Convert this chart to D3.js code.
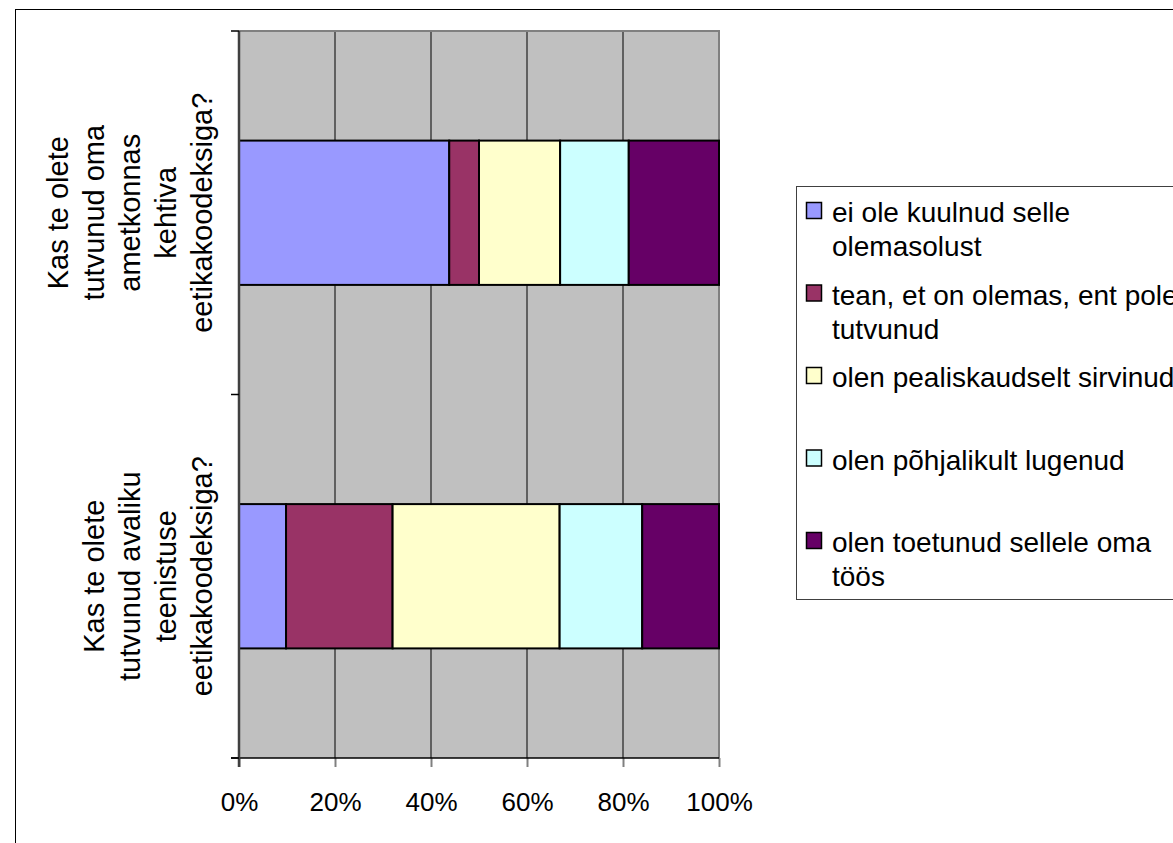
<!DOCTYPE html>
<html>
<head>
<meta charset="utf-8">
<script src="https://cdn.jsdelivr.net/npm/d3@7"></script>
<style>
  body { margin: 0; background: #fff; }
  svg { display: block; font-family: "Liberation Sans", Arial, sans-serif; }
</style>
</head>
<body>
<svg id="chart" width="1173" height="843"></svg>
<script>
// Categories, top to bottom; each label is split into its wrapped lines
const categories = ["ametkond", "avalik"];
const categoryLines = [
  ["Kas te olete", "tutvunud oma", "ametkonnas", "kehtiva", "eetikakoodeksiga?"],
  ["Kas te olete", "tutvunud avaliku", "teenistuse", "eetikakoodeksiga?"]
];

// Answer options (legend entries), each with its wrapped lines
const seriesLines = [
  ["ei ole kuulnud selle", "olemasolust"],
  ["tean, et on olemas, ent pole", "tutvunud"],
  ["olen pealiskaudselt sirvinud"],
  ["olen põhjalikult lugenud"],
  ["olen toetunud sellele oma", "töös"]
];
const seriesColors = ["#9999FF", "#993366", "#FFFFCC", "#CCFFFF", "#660066"];

// Share of answers in percent, one array per category (same order as series)
const ametkondValues = [43.8, 6.2, 16.9, 14.3, 18.8];
const avalikValues = [9.8, 22.2, 34.8, 17.2, 16.0];
const valuesByCategory = [ametkondValues, avalikValues];

const xTicks = [0, 20, 40, 60, 80, 100];

const svg = d3.select("#chart");

// Outer chart frame (runs off the right and bottom edges)
svg.append("rect")
  .attr("x", 15.5).attr("y", 9.5)
  .attr("width", 1300).attr("height", 1000)
  .attr("fill", "none").attr("stroke", "#000").attr("stroke-width", 1);

const plot = { left: 239, right: 719, top: 31, bottom: 758 };

const x = d3.scaleLinear().domain([0, 100]).range([plot.left, plot.right]);
const y = d3.scaleBand().domain(categories).range([plot.top, plot.bottom]).padding(0);
const barHeight = y.bandwidth() * 0.397;

// Plot background
svg.append("rect")
  .attr("x", plot.left).attr("y", plot.top)
  .attr("width", plot.right - plot.left).attr("height", plot.bottom - plot.top)
  .attr("fill", "#C0C0C0");

// Vertical gridlines
svg.append("g")
  .selectAll("line")
  .data(xTicks.filter((t) => t > 0 && t < 100))
  .join("line")
  .attr("x1", (d) => x(d)).attr("x2", (d) => x(d))
  .attr("y1", plot.top).attr("y2", plot.bottom)
  .attr("stroke", "#000").attr("stroke-width", 1);

// Plot border: top and right in gray
svg.append("path")
  .attr("d", `M${plot.left},${plot.top}H${plot.right}V${plot.bottom}`)
  .attr("fill", "none").attr("stroke", "#808080").attr("stroke-width", 2);

// Stacked bars
const stackedRows = valuesByCategory.map((vals, ci) => {
  let acc = 0;
  return vals.map((v, si) => {
    const seg = { cat: categories[ci], series: si, x0: acc, x1: acc + v };
    acc += v;
    return seg;
  });
});

svg.append("g")
  .selectAll("rect")
  .data(stackedRows.flat())
  .join("rect")
  .attr("x", (d) => x(d.x0))
  .attr("width", (d) => x(d.x1) - x(d.x0))
  .attr("y", (d) => y(d.cat) + (y.bandwidth() - barHeight) / 2)
  .attr("height", barHeight)
  .attr("fill", (d) => seriesColors[d.series])
  .attr("stroke", "#000")
  .attr("stroke-width", 2);

// Bottom axis with percent labels
const xAxis = svg.append("g")
  .attr("transform", `translate(0,${plot.bottom})`)
  .call(
    d3.axisBottom(x)
      .tickValues(xTicks)
      .tickSize(9)
      .tickSizeOuter(0)
      .tickFormat((d) => d + "%")
  );
xAxis.select(".domain").remove();
xAxis.selectAll(".tick line").attr("stroke", "#808080").attr("stroke-width", 2);
xAxis.selectAll(".tick text")
  .attr("y", 53).attr("dy", 0)
  .attr("fill", "#000")
  .style("font-size", "26px")
  .style("font-family", "'Liberation Sans', Arial, sans-serif");

svg.append("line")
  .attr("x1", plot.left - 8).attr("x2", plot.right)
  .attr("y1", plot.bottom).attr("y2", plot.bottom)
  .attr("stroke", "#000").attr("stroke-width", 1.5);

// Left axis line and ticks at category boundaries
svg.append("line")
  .attr("x1", plot.left).attr("x2", plot.left)
  .attr("y1", plot.top).attr("y2", plot.bottom + 9)
  .attr("stroke", "#404040").attr("stroke-width", 2.5);

const boundaries = [y(categories[0]), ...categories.map((c) => y(c) + y.bandwidth())];
svg.append("g")
  .selectAll("line")
  .data(boundaries)
  .join("line")
  .attr("x1", plot.left - 8).attr("x2", plot.left)
  .attr("y1", (d) => d).attr("y2", (d) => d)
  .attr("stroke", "#000").attr("stroke-width", 1.5);

// Rotated category labels, last line anchored next to the axis
const labelGroups = svg.append("g")
  .selectAll("text")
  .data(categories)
  .join("text")
  .attr("transform", (d) => `translate(212,${y(d) + y.bandwidth() / 2}) rotate(-90)`)
  .attr("text-anchor", "middle")
  .attr("fill", "#000")
  .style("font-size", "29px");

labelGroups.each(function (d, i) {
  const lines = categoryLines[i];
  d3.select(this)
    .selectAll("tspan")
    .data(lines)
    .join("tspan")
    .attr("x", 0)
    .attr("y", (l, li) => -(lines.length - 1 - li) * 36)
    .text((l) => l);
});

// Legend
const legend = svg.append("g");
legend.append("rect")
  .attr("x", 796.5).attr("y", 186.5)
  .attr("width", 500).attr("height", 413)
  .attr("fill", "#fff").attr("stroke", "#404040").attr("stroke-width", 1);

const legendItems = legend.selectAll("g.item")
  .data(seriesLines)
  .join("g")
  .attr("class", "item")
  .attr("transform", (d, i) => `translate(0,${222 + i * 82.5})`);

legendItems.append("rect")
  .attr("x", 806.5).attr("y", -19.5)
  .attr("width", 15).attr("height", 16)
  .attr("fill", (d, i) => seriesColors[i])
  .attr("stroke", "#000").attr("stroke-width", 1.5);

legendItems.append("text")
  .attr("fill", "#000")
  .style("font-size", "28px")
  .selectAll("tspan")
  .data((d) => d)
  .join("tspan")
  .attr("x", 832)
  .attr("y", (l, li) => li * 34)
  .text((l) => l);
</script>
</body>
</html>
